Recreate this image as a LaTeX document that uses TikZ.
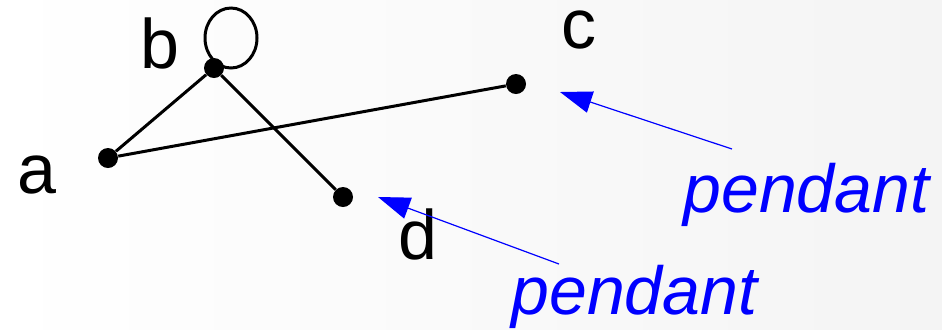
\documentclass[tikz,border=0pt]{standalone}
\usepackage{fontspec}
\setmainfont{Liberation Sans}
\usetikzlibrary{arrows.meta}
\definecolor{bgc}{HTML}{F4F4F4}
\definecolor{pblue}{HTML}{0000FF}
\begin{document}
\begin{tikzpicture}[x=0.5pt,y=-0.5pt,
  vertex/.style={circle,fill=black,inner sep=0pt,minimum size=10pt},
  edge/.style={line width=1.5pt,black},
  lbl/.style={anchor=base west,inner sep=0pt,font=\fontsize{35}{42}\selectfont},
  plbl/.style={anchor=base west,inner sep=0pt,text=pblue,font=\fontsize{34}{40}\selectfont\itshape},
  parrow/.style={draw=pblue,line width=0.6pt,-{Triangle[length=16pt,width=11pt]}}]
\path[fill=bgc,left color=white,right color=bgc] (0,0) rectangle (942,329);
% vertices
\node[vertex] (a) at (108,158) {};
\node[vertex] (b) at (214,68) {};
\node[vertex] (c) at (516,84) {};
\node[vertex] (d) at (343,197) {};
% edges
\draw[edge] (a) -- (b);
\draw[edge] (b) -- (d);
\draw[edge] (a) -- (c);
\draw[edge] (231,38) ellipse [x radius=13pt,y radius=15pt];
% labels
\node[lbl] (la) at (17,193) {a};
\node[lbl] (lb) at (140,68) {b};
\node[lbl] (lc) at (561,48) {c};
\node[lbl] (ld) at (398,259) {d};
\node[plbl] (p1) at (683,212) {pendant};
\node[plbl] (p2) at (511,314) {pendant};
% arrows
\coordinate (s1) at (732,149);
\coordinate (t1) at (560,92);
\coordinate (s2) at (559,264);
\coordinate (t2) at (378,197);
\draw[parrow] (s1) -- (t1);
\draw[parrow] (s2) -- (t2);
\end{tikzpicture}
\end{document}
